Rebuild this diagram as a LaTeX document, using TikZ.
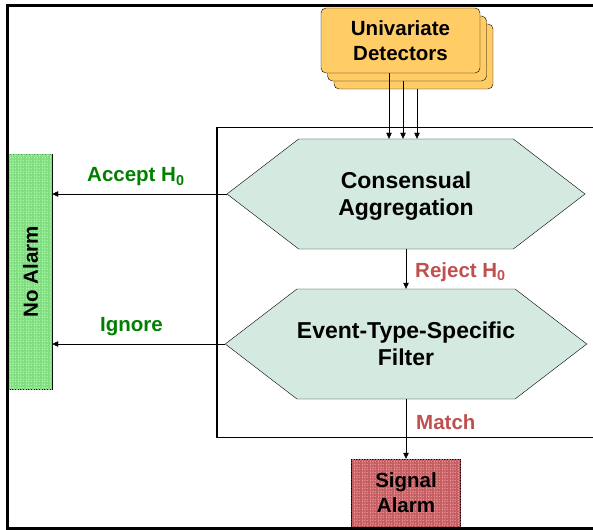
\documentclass[tikz,border=0pt]{standalone}
\usepackage{fontspec}
\setmainfont{Liberation Sans}
\usetikzlibrary{arrows.meta,shapes.symbols,shadows,patterns.meta}

\definecolor{detfill}{RGB}{255,204,102}
\definecolor{stagefill}{RGB}{212,234,224}
\definecolor{okfill}{RGB}{165,252,165}
\definecolor{okgrid}{RGB}{130,220,130}
\definecolor{alarmfill}{RGB}{235,148,150}
\definecolor{alarmgrid}{RGB}{196,95,100}
\definecolor{passtext}{RGB}{0,128,0}
\definecolor{failtext}{RGB}{192,80,77}

\begin{document}
\begin{tikzpicture}[x=1pt,y=-1pt,
 every node/.style={font=\bfseries\fontsize{20.5}{25}\selectfont},
 >={Triangle[length=6pt,width=5.5pt]},
 detector/.style={rectangle,rounded corners=5pt,draw,thin,fill=detfill,
  minimum width=159pt,minimum height=65pt,align=center,
  double copy shadow={shadow xshift=6.5pt,shadow yshift=-8pt}},
 stage/.style={signal,signal to=east and west,signal pointer angle=75,
  draw,thin,fill=stagefill,inner sep=0pt,text depth=0pt,
  minimum width=358pt,minimum height=110pt,
  align=center,font=\bfseries\fontsize{23}{27}\selectfont},
 outcome/.style={rectangle,draw,thin,align=center,inner sep=0pt},
 cond/.style={anchor=base west,inner sep=0pt}]
 \useasboundingbox (0,0) rectangle (593,529);
 % frames
 \draw[line width=3pt] (600,5.5) -- (7.5,5.5) -- (7.5,528.5) -- (600,528.5);
 \draw[line width=1.4pt] (600,127.5) -- (217,127.5) -- (217,437.5) -- (600,437.5);

 \node[detector] (det) at (400.5,40.5) {Univariate\\Detectors};
 \node[stage] (cons) at (406,194) {Consensual\\Aggregation};
 \node[stage] (filt) at (406,344) {Event-Type-Specific\\Filter};
 \node[outcome,fill=okfill,minimum width=43pt,minimum height=235pt,
  postaction={pattern={Hatch[angle=0,distance=1.6pt,line width=0.25pt]},pattern color=okgrid}]
  (noalarm) at (30.5,271.5) {\rotatebox{90}{No Alarm}};
 \node[outcome,fill=alarmfill,minimum width=109pt,minimum height=67pt,
  postaction={pattern={Hatch[angle=0,distance=1.6pt,line width=0.25pt]},pattern color=alarmgrid}]
  (sig) at (406,492.5) {Signal\\Alarm};

 \foreach \dx/\dy in {-11.5/0,2.5/8,16.5/16}
  \draw[->] ([xshift=\dx pt,yshift=-\dy pt]det.south) -- ([xshift=\dx pt]det.south |- cons.north);
 \draw[->] (cons.south) -- (filt.north);
 \draw[->] (filt.south) -- (sig.north);
 \draw[->] (cons.west) -- (cons.west -| noalarm.east);
 \draw[->] (filt.west) -- (filt.west -| noalarm.east);

 \node[cond,text=passtext] (accept) at (87,182) {Accept H\textsubscript{0}};
 \node[cond,text=passtext] (ignore) at (100,331) {Ignore};
 \node[cond,text=failtext] (reject) at (415,277) {Reject H\textsubscript{0}};
 \node[cond,text=failtext] (match) at (416,429) {Match};
\end{tikzpicture}
\end{document}
